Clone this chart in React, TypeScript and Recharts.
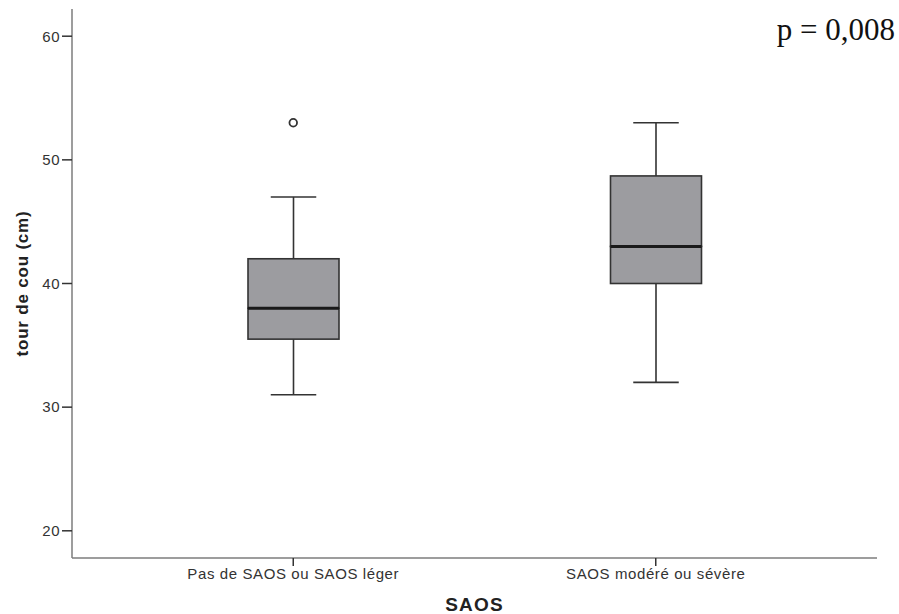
import React from 'react';
import {
  ComposedChart,
  Bar,
  Scatter,
  XAxis,
  YAxis,
  Label,
} from 'recharts';

// Box plot values (tour de cou, cm)
const categories = ['Pas de SAOS ou SAOS léger', 'SAOS modéré ou sévère'];
const whiskerLow = [31, 32];
const q1 = [35.5, 40];
const median = [38, 43];
const q3 = [42, 48.7];
const whiskerHigh = [47, 53];
const outliers: (number | null)[] = [53, null];
const yTicks = [20, 30, 40, 50, 60];

const BOX_FILL = '#9c9ca0';
const LINE = '#333333';
const AXIS = '#7c7c7c';
const FONT = 'Liberation Sans, Arial, sans-serif';

// stacked segments: invisible base, lower whisker, lower box, upper box, upper whisker
const data = categories.map((name, i) => ({
  name,
  base: whiskerLow[i],
  lowWhisker: q1[i] - whiskerLow[i],
  lowBox: median[i] - q1[i],
  highBox: q3[i] - median[i],
  highWhisker: whiskerHigh[i] - q3[i],
  outlier: outliers[i],
}));

const LowWhisker = (props: any) => {
  const { x, y, width, height } = props;
  const cx = x + width / 2;
  return (
    <g>
      <line x1={cx} x2={cx} y1={y} y2={y + height} stroke={LINE} strokeWidth={1.6} />
      <line x1={x + width / 4} x2={x + (width * 3) / 4} y1={y + height} y2={y + height} stroke={LINE} strokeWidth={1.6} />
    </g>
  );
};

const HighWhisker = (props: any) => {
  const { x, y, width, height } = props;
  const cx = x + width / 2;
  return (
    <g>
      <line x1={cx} x2={cx} y1={y} y2={y + height} stroke={LINE} strokeWidth={1.6} />
      <line x1={x + width / 4} x2={x + (width * 3) / 4} y1={y} y2={y} stroke={LINE} strokeWidth={1.6} />
    </g>
  );
};

const LowBox = (props: any) => {
  const { x, y, width, height } = props;
  return <rect x={x} y={y} width={width} height={height} fill={BOX_FILL} stroke={LINE} strokeWidth={1.6} />;
};

// upper half of the box, also draws the median on its bottom edge
const HighBox = (props: any) => {
  const { x, y, width, height } = props;
  return (
    <g>
      <rect x={x} y={y} width={width} height={height} fill={BOX_FILL} stroke={LINE} strokeWidth={1.6} />
      <line x1={x} x2={x + width} y1={y + height} y2={y + height} stroke="#1a1a1a" strokeWidth={3} />
    </g>
  );
};

const OutlierDot = (props: any) => {
  const { cx, cy, payload } = props;
  if (payload == null || payload.outlier == null || cy == null || isNaN(cy)) return <g />;
  return <circle cx={cx} cy={cy} r={3.8} fill="#fff" stroke={LINE} strokeWidth={1.8} />;
};

export default function App() {
  return (
    <div style={{ position: 'absolute', left: 0, top: 0, width: 899, height: 614, background: '#fff' }}>
      <ComposedChart
        width={899}
        height={614}
        data={data}
        margin={{ top: 9, right: 22, bottom: 0, left: 0 }}
      >
        <XAxis
          dataKey="name"
          type="category"
          padding={{ left: 40, right: 40 }}
          height={56}
          tickSize={8}
          tickMargin={2}
          axisLine={{ stroke: AXIS, strokeWidth: 1.5 }}
          tickLine={{ stroke: '#333', strokeWidth: 1.5 }}
          tick={{ fontSize: 15, fill: '#333', fontFamily: FONT, letterSpacing: 0.6 }}
        >
          <Label
            content={({ viewBox }: any) => (
              <text
                x={viewBox.x + viewBox.width / 2}
                y={viewBox.y + 53}
                textAnchor="middle"
                fontSize={19}
                fontWeight="bold"
                letterSpacing={1.2}
                fill="#222"
                fontFamily={FONT}
              >
                SAOS
              </text>
            )}
          />
        </XAxis>
        <YAxis
          type="number"
          domain={[17.8, 62.2]}
          allowDataOverflow
          ticks={yTicks}
          width={72}
          tickSize={10}
          tickMargin={2}
          axisLine={{ stroke: AXIS, strokeWidth: 1.5 }}
          tickLine={{ stroke: '#333', strokeWidth: 1.5 }}
          tick={{ fontSize: 15, fill: '#333', fontFamily: FONT, letterSpacing: 0.5 }}
        >
          <Label
            content={({ viewBox }: any) => {
              const cx = 22;
              const cy = viewBox.y + viewBox.height / 2;
              return (
                <text
                  x={cx}
                  y={cy}
                  transform={`rotate(-90 ${cx} ${cy})`}
                  textAnchor="middle"
                  dominantBaseline="central"
                  fontSize={17}
                  fontWeight="bold"
                  letterSpacing={0.8}
                  fill="#222"
                  fontFamily={FONT}
                >
                  tour de cou (cm)
                </text>
              );
            }}
          />
        </YAxis>
        <Bar dataKey="base" stackId="box" barSize={91} fill="transparent" isAnimationActive={false} />
        <Bar dataKey="lowWhisker" stackId="box" barSize={91} shape={LowWhisker} isAnimationActive={false} />
        <Bar dataKey="lowBox" stackId="box" barSize={91} shape={LowBox} isAnimationActive={false} />
        <Bar dataKey="highBox" stackId="box" barSize={91} shape={HighBox} isAnimationActive={false} />
        <Bar dataKey="highWhisker" stackId="box" barSize={91} shape={HighWhisker} isAnimationActive={false} />
        <Scatter dataKey="outlier" shape={OutlierDot} isAnimationActive={false} />
      </ComposedChart>
      <div
        style={{
          position: 'absolute',
          right: 4,
          top: 13,
          fontFamily: 'Liberation Serif, Times New Roman, serif',
          fontSize: 31,
          color: '#111',
          lineHeight: '34px',
        }}
      >
        p = 0,008
      </div>
    </div>
  );
}
